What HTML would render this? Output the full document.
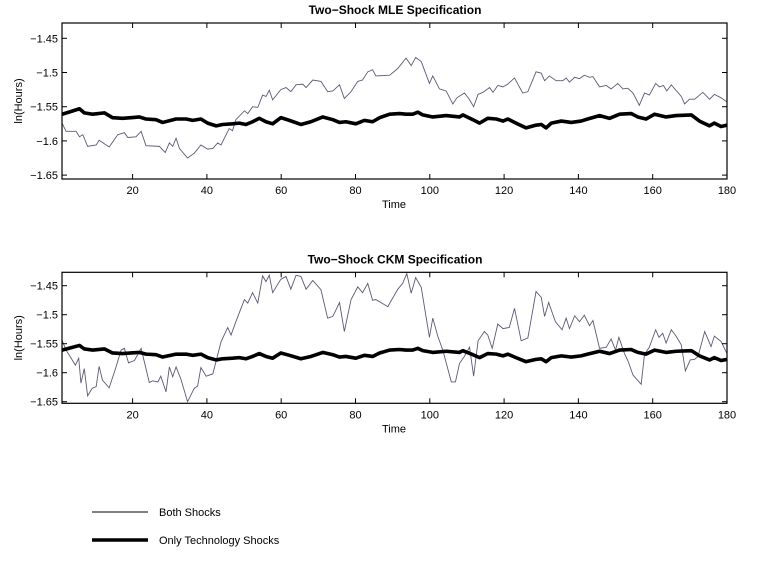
<!DOCTYPE html>
<html><head><meta charset="utf-8"><style>
body{margin:0;background:#fff;}
svg{display:block;font-family:"Liberation Sans",Arial,sans-serif;}
</style></head><body>
<svg id="c" width="772" height="564" viewBox="0 0 772 564"></svg>
<script>
const xTicks=[20,40,60,80,100,120,140,160,180];
const yTicks=[-1.45,-1.5,-1.55,-1.6,-1.65];
const yTickLabels=["-1.45","-1.5","-1.55","-1.6","-1.65"];
const mleTimes=[1,2.1,4.8,5.7,6.6,7.9,10.2,11,13.7,16,17.8,18.7,20.9,22.3,23.6,27.2,28.8,29.9,30.8,31.7,32.6,34.8,36.6,38.4,40.2,41.6,42.9,43.8,46,46.9,47.8,50.1,51,52.3,53.7,55,55.9,56.8,57.7,59.9,61.3,62.6,64,65.8,66.7,68.5,70.7,72.5,73.9,75.7,77,78.8,80.6,81.9,83.3,84.6,85.5,89.2,91.4,93.6,95,96.2,97.7,99.9,100.8,102.6,104.4,106.2,107.3,109.3,110.5,111.8,113,114.3,116.1,117,118.3,119.7,121,122.8,125,126.4,128.6,130,130.9,132.2,134,135.8,136.7,137.6,139,140.3,141.6,143,143.9,145.7,147.5,148.8,150.6,152,153.3,154.7,156.4,157.8,159.1,160.8,161.8,162.9,163.8,165,167.7,168.6,169.9,171.3,173.5,175.3,176.6,178.4,180];
const mleBoth=[-1.574,-1.586,-1.586,-1.594,-1.591,-1.608,-1.606,-1.599,-1.609,-1.591,-1.588,-1.595,-1.594,-1.586,-1.607,-1.608,-1.617,-1.603,-1.608,-1.596,-1.611,-1.625,-1.618,-1.606,-1.612,-1.611,-1.603,-1.606,-1.582,-1.585,-1.569,-1.556,-1.56,-1.55,-1.551,-1.533,-1.535,-1.526,-1.54,-1.525,-1.522,-1.528,-1.518,-1.517,-1.522,-1.511,-1.513,-1.528,-1.527,-1.518,-1.538,-1.528,-1.513,-1.511,-1.499,-1.496,-1.505,-1.504,-1.494,-1.479,-1.49,-1.478,-1.484,-1.516,-1.505,-1.524,-1.527,-1.546,-1.537,-1.53,-1.538,-1.55,-1.532,-1.529,-1.522,-1.529,-1.519,-1.521,-1.517,-1.508,-1.53,-1.528,-1.499,-1.501,-1.512,-1.505,-1.512,-1.512,-1.508,-1.514,-1.507,-1.509,-1.504,-1.507,-1.506,-1.521,-1.519,-1.524,-1.516,-1.524,-1.523,-1.53,-1.548,-1.53,-1.533,-1.516,-1.521,-1.519,-1.527,-1.518,-1.535,-1.546,-1.539,-1.539,-1.529,-1.539,-1.532,-1.537,-1.543];
const techTimes=[1,3.4,5.7,7,9.3,12.4,14.6,17.3,19.6,21.8,23.6,26.3,28.1,31.7,34.4,36.2,38.4,40.2,42.5,44.2,46.9,48.7,50.5,52.3,54.1,55.9,57.7,59.9,62.2,65.3,68,71.2,73.9,75.7,77.4,80.1,82.4,84.6,86.5,89.2,91.8,93.6,95.4,96.8,98.1,100.8,104.4,108,108.9,111.6,113.4,115.6,117.9,119.7,121,123.2,125.9,128.6,130,131.3,132.7,135.4,138.1,140.7,142.5,145.7,148.4,151.1,154.2,156,158.2,160.5,163.6,166.3,170.4,172.6,175.3,176.6,178.4,180];
const techOnly=[-1.561,-1.557,-1.553,-1.559,-1.561,-1.559,-1.566,-1.567,-1.566,-1.565,-1.568,-1.569,-1.573,-1.568,-1.568,-1.57,-1.568,-1.574,-1.578,-1.576,-1.575,-1.574,-1.576,-1.572,-1.567,-1.572,-1.575,-1.566,-1.57,-1.576,-1.572,-1.565,-1.569,-1.573,-1.572,-1.575,-1.57,-1.572,-1.566,-1.561,-1.56,-1.561,-1.561,-1.558,-1.562,-1.565,-1.563,-1.565,-1.562,-1.569,-1.574,-1.567,-1.568,-1.571,-1.568,-1.574,-1.581,-1.577,-1.576,-1.581,-1.574,-1.571,-1.573,-1.571,-1.568,-1.563,-1.567,-1.561,-1.56,-1.565,-1.568,-1.561,-1.565,-1.563,-1.562,-1.571,-1.578,-1.574,-1.579,-1.577];
const ckmTimes=[1,2.1,4.6,5.5,6.1,7,7.9,9.1,10.2,11,11.9,13.7,15.5,16.9,17.8,18.9,20.5,22.3,24.5,25.4,26.8,27.6,29,29.9,30.8,31.7,33,34.8,36.6,37.5,38.4,39.8,41.6,43.8,45.6,46.5,47.8,50.1,51,52.3,53.7,55,55.9,56.8,57.7,59.9,61.3,62.6,64,65.3,66.7,68.5,70.7,72.5,73.9,75.7,77,78.8,80.6,81.9,83.3,84.6,85.5,88.7,91.4,92.7,93.8,95,96.2,97.7,99.9,100.8,102.2,103.5,105.8,106.9,108,109.3,110.7,111.8,113,114.7,115.6,116.8,118.3,119.7,121.4,122.8,124.6,126.4,128.6,130,130.9,132,133.8,135.6,136.7,137.6,139,140.3,141.6,143,143.9,145.7,147.5,148.8,150,150.9,152.4,153.3,154.7,156.9,157.8,159.1,160.8,161.7,162.7,163.6,165,166.3,167.7,168.8,170.1,171.3,172.2,174,175.7,176.6,178.4,180];
const ckmBoth=[-1.544,-1.561,-1.587,-1.575,-1.618,-1.593,-1.64,-1.627,-1.624,-1.589,-1.613,-1.626,-1.591,-1.561,-1.558,-1.583,-1.579,-1.558,-1.617,-1.614,-1.616,-1.606,-1.633,-1.59,-1.607,-1.59,-1.611,-1.65,-1.627,-1.623,-1.591,-1.606,-1.602,-1.547,-1.522,-1.535,-1.512,-1.474,-1.48,-1.462,-1.48,-1.433,-1.443,-1.432,-1.462,-1.439,-1.434,-1.456,-1.432,-1.434,-1.456,-1.441,-1.457,-1.506,-1.503,-1.479,-1.529,-1.474,-1.452,-1.462,-1.446,-1.475,-1.474,-1.486,-1.456,-1.446,-1.429,-1.463,-1.436,-1.453,-1.539,-1.506,-1.538,-1.561,-1.616,-1.616,-1.584,-1.572,-1.556,-1.606,-1.545,-1.529,-1.535,-1.558,-1.516,-1.524,-1.522,-1.489,-1.545,-1.54,-1.46,-1.47,-1.503,-1.479,-1.512,-1.526,-1.506,-1.524,-1.502,-1.512,-1.501,-1.519,-1.51,-1.558,-1.556,-1.542,-1.561,-1.539,-1.567,-1.579,-1.604,-1.62,-1.568,-1.556,-1.526,-1.539,-1.532,-1.549,-1.526,-1.537,-1.552,-1.597,-1.578,-1.577,-1.572,-1.529,-1.555,-1.537,-1.546,-1.567];

const NS="http://www.w3.org/2000/svg";
const svg=document.getElementById('c');
function mk(tag,attrs,parent){const e=document.createElementNS(NS,tag);for(const k in attrs)e.setAttribute(k,attrs[k]);(parent||svg).appendChild(e);return e;}

function panel(name,title,top,bottom,y145,pxPer05,seriesBoth,timesBoth){
  const L=62,R=727;
  const x=t=>L+(t-1)*(R-L)/179;
  const y=v=>y145+(-1.45-v)/0.05*pxPer05;
  const g=mk('g',{});
  
  
  const tt=mk('text',{x:395,y:top-9,'text-anchor':'middle','font-size':12,'font-weight':'bold'},g);
  tt.textContent=title;
  
  
  const cp=mk('clipPath',{id:'cp'+name},g);
  mk('rect',{x:L,y:top,width:R-L,height:bottom-top},cp);
  // series
  const pb=mk('polyline',{points:timesBoth.map((t,i)=>x(t)+','+y(seriesBoth[i])).join(' '),fill:'none',stroke:'#5a5a78','stroke-width':0.9,'clip-path':'url(#cp'+name+')'},g);
  
  
  const pt=mk('polyline',{points:techTimes.map((t,i)=>x(t)+','+y(techOnly[i])).join(' '),fill:'none',stroke:'#000','stroke-width':3.6,'stroke-linejoin':'round','clip-path':'url(#cp'+name+')'},g);
  
  
  const box=mk('rect',{x:L,y:top,width:R-L,height:bottom-top,fill:'none',stroke:'#000','stroke-width':1.2},g);
  
  
  xTicks.forEach(t=>{
    const X=x(t);
    mk('line',{x1:X,x2:X,y1:bottom,y2:bottom-5,stroke:'#000'},g);
    mk('line',{x1:X,x2:X,y1:top,y2:top+5,stroke:'#000'},g);
    const lb=mk('text',{x:X,y:bottom+15,'text-anchor':'middle','font-size':11},g);
    lb.textContent=t;
    
    
  });
  yTicks.forEach((v,i)=>{
    const Y=y(v);
    mk('line',{x1:L,x2:L+5,y1:Y,y2:Y,stroke:'#000'},g);
    mk('line',{x1:R,x2:R-5,y1:Y,y2:Y,stroke:'#000'},g);
    const lb=mk('text',{x:L-4,y:Y+4,'text-anchor':'end','font-size':11},g);
    lb.textContent=yTickLabels[i].replace('-','\u2212');
    
    
  });
  const xl=mk('text',{x:394,y:bottom+29,'text-anchor':'middle','font-size':11},g);
  xl.textContent='Time';
  
  
  const cy=(top+bottom)/2;
  const yl=mk('text',{x:22,y:cy,'text-anchor':'middle','font-size':11,transform:'rotate(-90 22 '+cy+')'},g);
  yl.textContent='ln(Hours)';
  
  
}
panel('mle','Two\u2212Shock MLE Specification',23,179,38.3,34.2,mleBoth,mleTimes);
panel('ckm','Two\u2212Shock CKM Specification',272.3,403.3,285.7,29,ckmBoth,ckmTimes);

const lg=mk('g',{});


const l1=mk('line',{x1:92,x2:148,y1:512,y2:512,stroke:'#000','stroke-width':0.9},lg);


const t1=mk('text',{x:159,y:516,'font-size':11},lg);
t1.textContent='Both Shocks';


const l2=mk('line',{x1:92,x2:148,y1:540,y2:540,stroke:'#000','stroke-width':3.6},lg);


const t2=mk('text',{x:159,y:544,'font-size':11},lg);
t2.textContent='Only Technology Shocks';


</script>
</body></html>
